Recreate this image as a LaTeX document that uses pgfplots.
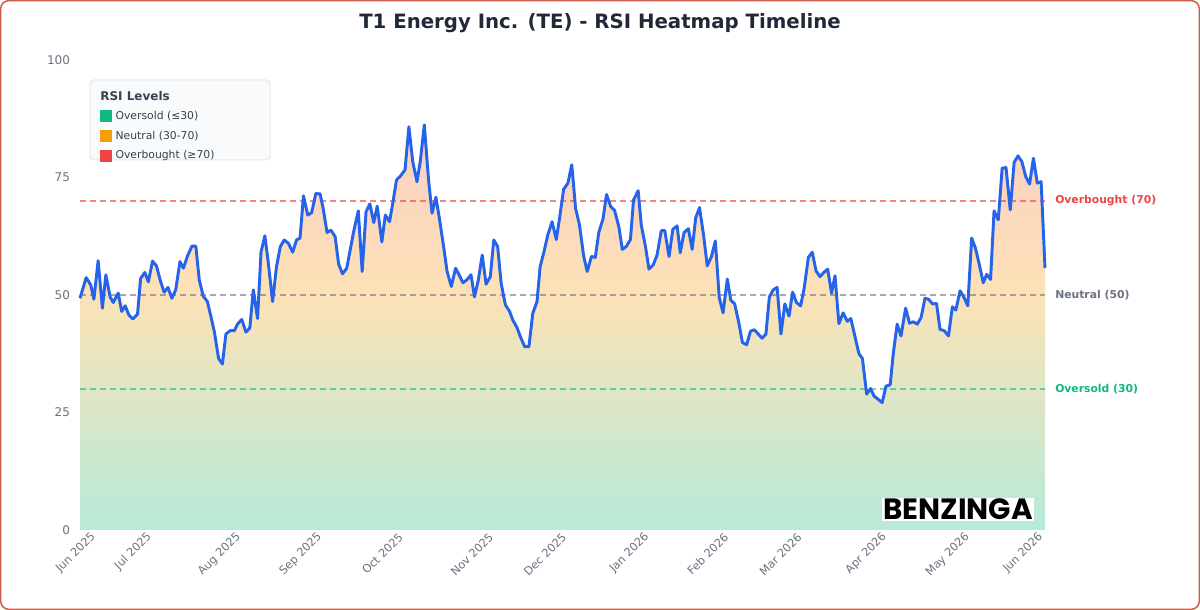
\documentclass[border=0pt]{standalone}
\usepackage{fontspec}
\setmainfont{DejaVu Sans}
\newfontfamily\benz{Poppins}
\usepackage{pgfplots}
\usepackage{pgfplotstable}
\pgfplotsset{compat=1.18}

\definecolor{rsiblue}{RGB}{37,99,235}
\definecolor{tgray}{RGB}{107,114,128}
\definecolor{ttl}{RGB}{31,41,55}
\definecolor{lgtxt}{RGB}{55,65,81}
\definecolor{osgreen}{RGB}{16,185,129}
\definecolor{ntorange}{RGB}{245,158,11}
\definecolor{obred}{RGB}{239,68,68}
\definecolor{fgreen}{RGB}{183,234,217}
\definecolor{forange}{RGB}{252,226,182}
\definecolor{fred}{RGB}{250,199,199}
\definecolor{framecol}{RGB}{205,92,72}
\definecolor{lgfill}{RGB}{249,250,251}
\definecolor{lgborder}{RGB}{229,231,235}

\pgfdeclareverticalshading{rsifill}{100bp}{color(0bp)=(fgreen); color(25bp)=(fgreen); color(54bp)=(forange); color(83bp)=(fred); color(100bp)=(fred)}

\pgfplotstableread{
x y
0 49.3
1.6 53.7
2.8 52.1
3.6 49.1
4.7 57.3
5.8 47.2
6.7 54.3
7.8 49.6
8.6 48.4
9.9 50.4
10.8 46.5
11.7 47.7
12.7 45.7
13.7 44.9
14.9 45.9
15.7 53.5
16.8 54.8
17.7 52.8
18.8 57.2
19.8 56.2
20.9 52.8
21.8 50.6
22.8 51.6
23.8 49.3
24.8 51.1
25.9 57.1
26.8 55.7
27.8 58.2
29 60.4
30 60.4
30.9 53.2
31.9 49.8
33 48.6
33.9 45.5
34.8 42.2
35.9 36.5
36.9 35.3
37.8 41.7
38.9 42.4
40 42.4
40.8 43.8
41.9 44.8
43 42.1
44 43.0
44.9 51.1
46 45.0
46.9 59.2
47.9 62.6
48.8 56.7
49.9 48.6
50.9 56.0
51.9 60.3
52.9 61.7
54 61.0
55.1 59.1
56.1 61.7
57 62.1
57.9 71.1
59 67.0
60 67.5
61.1 71.6
62.2 71.5
63 68.4
64 63.3
65 63.8
66.1 62.4
67 56.6
68 54.5
69.1 55.7
70 59.6
70.9 63.5
72.1 67.9
73.1 55.0
74.1 67.7
75.1 69.4
76.1 65.4
77 68.9
78.2 61.3
79.1 67.0
80.2 65.6
81 69.4
82 74.5
83 75.3
84.2 76.6
85.2 85.8
86.2 78.4
87.3 74.1
88.2 78.7
89.2 86.2
90.3 74.5
91.2 67.4
92.2 70.8
93.1 66.3
94.2 60.3
95.1 55.0
96.2 51.8
97.3 55.7
98.2 54.3
99.2 52.6
100.2 53.2
101.3 54.3
102.2 49.6
103.2 53.2
104.2 58.5
105.2 52.3
106.3 53.9
107.2 61.7
108.2 60.3
109.1 52.5
110.2 47.9
111.3 46.5
112.1 44.7
113.2 43.1
114.1 41.1
115.2 39.0
116.3 39.0
117.3 46.1
118.4 48.6
119.2 56.0
120.2 59.2
121.2 62.8
122.3 65.6
123.4 61.8
124.3 66.7
125.3 72.5
126.4 73.8
127.4 77.7
128.4 68.4
129.4 64.9
130.5 58.2
131.4 55.0
132.5 58.2
133.5 58.0
134.4 63.3
135.5 66.2
136.4 71.4
137.5 68.8
138.5 68.0
139.6 64.5
140.5 59.7
141.5 60.3
142.6 61.8
143.4 70.2
144.6 72.2
145.4 64.9
146.5 60.3
147.4 55.5
148.5 56.4
149.5 58.5
150.6 63.7
151.5 63.7
152.6 58.2
153.6 64.0
154.7 64.7
155.5 59.0
156.5 63.3
157.6 64.1
158.6 59.7
159.5 66.4
160.5 68.6
161.6 62.4
162.5 56.2
163.6 58.2
164.6 61.5
165.6 49.5
166.6 46.2
167.7 53.4
168.6 48.9
169.6 48.1
170.7 44.0
171.6 39.9
172.7 39.4
173.7 42.3
174.7 42.6
175.7 41.7
176.7 40.8
177.7 41.7
178.6 49.6
179.6 51.1
180.6 51.6
181.6 41.7
182.6 48.1
183.7 45.5
184.6 50.6
185.6 48.4
186.7 47.7
187.6 51.4
188.7 58.0
189.7 59.1
190.7 55.1
191.7 53.9
192.7 54.8
193.7 55.5
194.7 50.4
195.6 54.1
196.6 43.9
197.7 46.2
198.8 44.4
199.7 45.0
200.7 41.4
201.8 37.5
202.7 36.5
203.8 28.9
204.8 30.1
205.7 28.5
206.8 27.8
207.8 27.1
208.8 30.6
209.9 30.9
210.7 37.6
211.7 43.8
212.7 41.3
213.9 47.2
214.9 44.0
215.9 44.3
216.9 43.8
217.9 45.2
218.9 49.3
219.8 49.1
220.9 48.1
221.9 48.2
222.8 42.7
223.9 42.4
225 41.3
226 47.5
226.9 46.8
228 50.9
229 49.5
230 47.7
231 62.1
232 59.9
233 56.4
234 52.6
234.9 54.4
235.9 53.3
236.8 67.9
237.9 66.0
238.9 77.0
239.9 77.1
241 68.1
242 78.2
243 79.6
244 78.4
245 75.2
246 73.6
247 79.1
248 73.8
249 74.1
250 55.7
}\rsidata

\begin{document}
\begin{tikzpicture}
\useasboundingbox (0,0) rectangle (900pt,457.5pt);
\fill[white] (0,0) rectangle (900pt,457.5pt);
\draw[framecol, line width=1.1pt, rounded corners=6pt] (0.55pt,0.55pt) rectangle (899.45pt,456.95pt);
\begin{axis}[
  at={(60pt,60pt)}, anchor=south west,
  scale only axis, width=723.75pt, height=352.5pt,
  xmin=0, xmax=250, ymin=0, ymax=100,
  ytick={0,25,50,75,100},
  xtick={3.9,18.4,41.5,62.5,83.5,106.9,125.8,147.3,167.8,186.8,208.8,230.3,249.3},
  xticklabels={Jun 2025,Jul 2025,Aug 2025,Sep 2025,Oct 2025,Nov 2025,Dec 2025,Jan 2026,Feb 2026,Mar 2026,Apr 2026,May 2026,Jun 2026},
  axis line style={draw=none}, tick style={draw=none}, major tick length=0pt,
  /pgf/number format/assume math mode=true,
  yticklabel style={font=\fontsize{9}{10}\selectfont, text=tgray, xshift=-4pt},
  xticklabel style={font=\fontsize{8.5}{10}\selectfont, text=tgray, rotate=45, anchor=east, yshift=-2pt},
  clip=false,
]
\addplot[draw=none, shade, shading=rsifill] table {\rsidata} \closedcycle;
\addplot[obred, draw opacity=0.65, line width=1.3pt, dash pattern=on 4.5pt off 3pt] coordinates {(0,70) (250,70)};
\addplot[tgray, draw opacity=0.6, line width=1.3pt, dash pattern=on 4.5pt off 3pt] coordinates {(0,50) (250,50)};
\addplot[osgreen, draw opacity=0.6, line width=1.3pt, dash pattern=on 4.5pt off 3pt] coordinates {(0,30) (250,30)};
\addplot[rsiblue, line width=2.2pt, line join=round] table {\rsidata};
\end{axis}
% title
\node[text=ttl, font=\bfseries\fontsize{14.8}{17}\selectfont] at (450pt,440.25pt) {T1 Energy Inc. (TE) - RSI Heatmap Timeline};
% threshold labels
\node[anchor=west, inner sep=0pt, text=obred, font=\bfseries\fontsize{8.1}{9}\selectfont] at (791.25pt,306.75pt) {Overbought (70)};
\node[anchor=west, inner sep=0pt, text=tgray, font=\bfseries\fontsize{8.1}{9}\selectfont] at (791.25pt,236.25pt) {Neutral (50)};
\node[anchor=west, inner sep=0pt, text=osgreen, font=\bfseries\fontsize{8.1}{9}\selectfont] at (791.25pt,165.75pt) {Oversold (30)};
% legend
\draw[lgborder, fill=lgfill, rounded corners=3pt, line width=0.75pt] (67.5pt,397.5pt) rectangle (202.5pt,337.5pt);
\node[anchor=west, inner sep=0pt, text=lgtxt, font=\bfseries\fontsize{9}{10}\selectfont] at (75pt,385.5pt) {RSI Levels};
\fill[osgreen] (75pt,366pt) rectangle (84pt,375pt);
\fill[ntorange] (75pt,351pt) rectangle (84pt,360pt);
\fill[obred] (75pt,336pt) rectangle (84pt,345pt);
\node[anchor=west, inner sep=0pt, text=lgtxt, font=\fontsize{8.1}{9}\selectfont] at (86.5pt,370.5pt) {Oversold (≤30)};
\node[anchor=west, inner sep=0pt, text=lgtxt, font=\fontsize{8.1}{9}\selectfont] at (86.5pt,355.5pt) {Neutral (30-70)};
\node[anchor=west, inner sep=0pt, text=lgtxt, font=\fontsize{8.1}{9}\selectfont] at (86.5pt,340.5pt) {Overbought (≥70)};
% watermark
\fill[white] (661.5pt,66.75pt) rectangle (775.5pt,84pt);
\node[inner sep=0pt, font=\benz\bfseries\fontsize{22}{24}\selectfont] at (718.5pt,75.75pt) {BENZINGA};
\end{tikzpicture}
\end{document}
